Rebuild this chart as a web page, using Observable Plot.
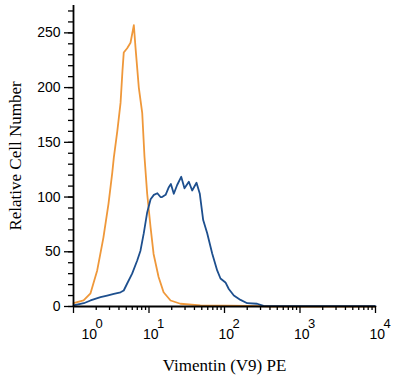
<!DOCTYPE html>
<html>
<head>
<meta charset="utf-8">
<script src="https://cdn.jsdelivr.net/npm/d3@7"></script>
<script src="https://cdn.jsdelivr.net/npm/@observablehq/plot@0.6"></script>
<style>
  html, body { margin: 0; padding: 0; background: #fff; }
</style>
</head>
<body>
<div id="chart"></div>
<script>
// Control (isotype) histogram — orange
const orangeX = [1.00, 1.36, 1.68, 2.06, 2.49, 2.91, 3.26, 3.42, 3.80, 4.20, 4.45, 4.63, 5.14, 5.69, 6.30, 6.62, 7.33, 8.13, 8.71, 9.46, 10.5, 11.5, 13.4, 15.6, 19.3, 26.1, 47.9, 219, 398, 10000];
const orangeY = [3, 5.5, 12, 33, 63, 94, 122, 136, 160, 186, 215, 232, 236, 241, 257, 237, 200, 177, 137, 103, 72, 48, 27, 13, 5.5, 2.5, 1, 0.5, 0, 0];

// Vimentin (V9) PE histogram — blue
const blueX = [1.00, 1.37, 1.68, 2.28, 2.79, 3.42, 4.20, 4.63, 5.14, 5.98, 6.98, 7.71, 8.53, 9.46, 10.5, 11.6, 12.9, 14.2, 14.9, 16.6, 18.3, 19.5, 21.3, 23.6, 26.7, 29.5, 33.7, 37.3, 42.6, 47.1, 52.2, 59.0, 68.7, 80.0, 88.5, 103, 114, 133, 163, 200, 271, 329, 10000];
const blueY = [1, 3, 5.5, 8.5, 10, 11.6, 13, 14.6, 21, 30, 42, 51, 67, 86, 98, 102, 103.5, 100, 100, 102, 109, 112, 103, 111, 118.5, 108, 114, 106, 113, 103, 79, 67, 48.5, 33, 25.6, 22, 16, 10, 6, 3, 2.5, 0.6, 0.3];

// Axis ticks
const yMajor = [0, 50, 100, 150, 200, 250];
const yMinor = [0, 10, 20, 30, 40, 50, 60, 70, 80, 90, 100, 110, 120, 130, 140, 150, 160, 170, 180, 190, 200, 210, 220, 230, 240, 250, 260, 270];
const xMajor = [1, 10, 100, 1000, 10000];
const xExponents = ["0", "1", "2", "3", "4"];
const xMinor = [2, 3, 4, 5, 6, 7, 8, 9, 20, 30, 40, 50, 60, 70, 80, 90, 200, 300, 400, 500, 600, 700, 800, 900, 2000, 3000, 4000, 5000, 6000, 7000, 8000, 9000];

const orange = orangeX.map((x, i) => ({x, y: orangeY[i]}));
const blue = blueX.map((x, i) => ({x, y: blueY[i]}));
const xTicks = xMajor.map((v, i) => ({v, exp: xExponents[i]}));

const sans = "Liberation Sans, Arial, sans-serif";
const serif = "Liberation Serif, Times New Roman, serif";

const chart = Plot.plot({
  width: 400,
  height: 384,
  marginLeft: 73,
  marginRight: 25,
  marginTop: 5,
  marginBottom: 78,
  x: {type: "log", domain: [1, 10000], axis: null},
  y: {domain: [0, 275], axis: null},
  style: {fontFamily: sans, fontSize: "14px", background: "#fff", color: "#000"},
  marks: [
    // curves
    Plot.line(orange, {x: "x", y: "y", stroke: "#ef983a", strokeWidth: 1.8}),
    Plot.line(blue, {x: "x", y: "y", stroke: "#1d4f8e", strokeWidth: 1.8}),
    // y axis ticks
    Plot.axisY(yMinor, {tickSize: 5, text: null, label: null, strokeWidth: 1.3}),
    Plot.axisY(yMajor, {tickSize: 9, tickPadding: 4, label: null, strokeWidth: 1.3, fontSize: 14, fontFamily: sans}),
    // x axis ticks
    Plot.axisX(xMinor, {tickSize: 4, text: null, label: null, strokeWidth: 1.3}),
    Plot.axisX(xMajor, {tickSize: 7, text: null, label: null, strokeWidth: 1.3}),
    // axis lines
    Plot.ruleX([1], {stroke: "#000", strokeWidth: 1.8}),
    Plot.ruleY([0], {stroke: "#000", strokeWidth: 1.8}),
    // x tick labels: 10^n
    Plot.text(xTicks.slice(0, 1), {x: "v", frameAnchor: "bottom", text: () => "10", textAnchor: "start", lineAnchor: "bottom", dx: 8, dy: 32, fontSize: 14, fontFamily: sans}),
    Plot.text(xTicks.slice(0, 1), {x: "v", frameAnchor: "bottom", text: "exp", textAnchor: "start", lineAnchor: "bottom", dx: 22, dy: 21, fontSize: 13, fontFamily: sans}),
    Plot.text(xTicks.slice(1), {x: "v", frameAnchor: "bottom", text: () => "10", textAnchor: "start", lineAnchor: "bottom", dx: -6, dy: 32, fontSize: 14, fontFamily: sans}),
    Plot.text(xTicks.slice(1), {x: "v", frameAnchor: "bottom", text: "exp", textAnchor: "start", lineAnchor: "bottom", dx: 8, dy: 21, fontSize: 13, fontFamily: sans}),
    // axis titles
    Plot.text(["Relative Cell Number"], {frameAnchor: "left", textAnchor: "middle", lineAnchor: "middle", dx: -58, rotate: -90, fontFamily: serif, fontSize: 17}),
    Plot.text(["Vimentin (V9) PE"], {frameAnchor: "bottom", textAnchor: "middle", lineAnchor: "middle", dy: 59, fontFamily: serif, fontSize: 17})
  ]
});

document.getElementById("chart").appendChild(chart);
</script>
</body>
</html>
